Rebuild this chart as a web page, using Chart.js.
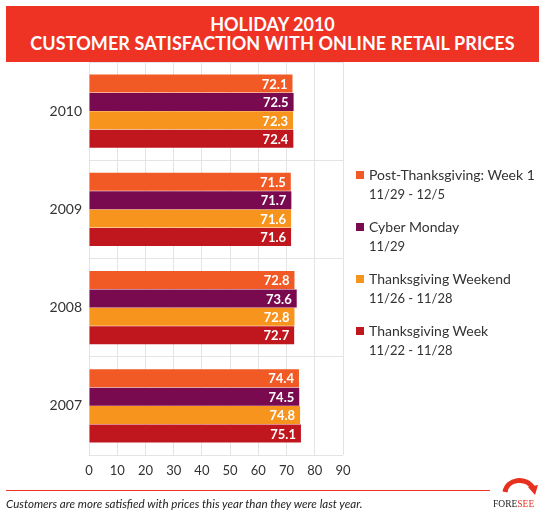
<!DOCTYPE html>
<html>
<head>
<meta charset="utf-8">
<script src="https://cdn.jsdelivr.net/npm/chart.js@4.4.0/dist/chart.umd.min.js"></script>
<style>
  html, body { margin:0; padding:0; background:#fff; }
  #wrap { position:relative; width:545px; height:513px; overflow:hidden; font-family: Lato, "Open Sans", sans-serif; }
  #chart { position:absolute; left:0; top:0; }
  #header { position:absolute; left:6px; top:6px; width:533px; height:56px; background:#ee3224; color:#fff;
            font-weight:bold; font-size:18px; line-height:18px; text-align:center; z-index:2; }
  #header .l1 { position:absolute; left:0; right:0; top:9px; }
  #header .l2 { position:absolute; left:0; right:0; top:28px; letter-spacing:0.1px; }
  #legend { position:absolute; left:356px; top:166px; z-index:2; color:#333; }
  .li { position:absolute; left:0; white-space:nowrap; }
  .sw { position:absolute; left:0; top:5px; width:8px; height:8px; }
  .t1 { position:absolute; left:13px; top:0; font-size:14px; line-height:18px; }
  .t2 { position:absolute; left:13px; top:19px; font-size:13px; line-height:18px; }
  #rule { position:absolute; left:6px; top:490px; width:484px; height:1px; background:#ee3224; }
  #foot { position:absolute; left:6px; top:497px; font-size:11.6px; font-style:italic; color:#222; white-space:nowrap; }
  #logo { position:absolute; left:490px; top:474px; width:52px; height:38px; }
</style>
</head>
<body>
<div id="wrap">
  <canvas id="chart" width="545" height="513"></canvas>
  <div id="header"><div class="l1">HOLIDAY 2010</div><div class="l2">CUSTOMER SATISFACTION WITH ONLINE RETAIL PRICES</div></div>
  <div id="legend"></div>
  <div id="rule"></div>
  <div id="foot">Customers are more satisfied with prices this year than they were last year.</div>
  <svg id="logo" viewBox="0 0 52 38">
    <path d="M15 18 C17 5, 36 2, 43 14" fill="none" stroke="#e8301f" stroke-width="5"/>
    <path d="M38 13 L48 11 L45 21 Z" fill="#e8301f"/>
    <text x="3" y="33" font-family="Liberation Serif, serif" font-size="9.5" fill="#222">FORE<tspan fill="#e8301f">SEE</tspan></text>
  </svg>
</div>
<script>
const categories = ["2010", "2009", "2008", "2007"];
const seriesNames = ["Post-Thanksgiving: Week 1", "Cyber Monday", "Thanksgiving Weekend", "Thanksgiving Week"];
const seriesDates = ["11/29 - 12/5", "11/29", "11/26 - 11/28", "11/22 - 11/28"];
const postThanksgivingWeek1 = [72.1, 71.5, 72.8, 74.4];
const cyberMonday = [72.5, 71.7, 73.6, 74.5];
const thanksgivingWeekend = [72.3, 71.6, 72.8, 74.8];
const thanksgivingWeek = [72.4, 71.6, 72.7, 75.1];
const xTicks = [0, 10, 20, 30, 40, 50, 60, 70, 80, 90];
const colors = ["#f15a24", "#7a0a4f", "#f7941d", "#c0161e"];

const seriesValues = [postThanksgivingWeek1, cyberMonday, thanksgivingWeekend, thanksgivingWeek];

// legend
const legendEl = document.getElementById('legend');
seriesNames.forEach((n, i) => {
  const d = document.createElement('div');
  d.className = 'li';
  d.style.top = (i * 52) + 'px';
  d.innerHTML = '<div class="sw" style="background:' + colors[i] + '"></div><div class="t1"></div><div class="t2"></div>';
  d.querySelector('.t1').textContent = n;
  d.querySelector('.t2').textContent = seriesDates[i];
  legendEl.appendChild(d);
});

const valueLabels = {
  id: 'valueLabels',
  afterDatasetsDraw(chart) {
    const ctx = chart.ctx;
    ctx.save();
    ctx.font = 'bold 13px Lato, sans-serif';
    ctx.fillStyle = '#fff';
    ctx.textAlign = 'right';
    ctx.textBaseline = 'middle';
    chart.data.datasets.forEach((ds, di) => {
      chart.getDatasetMeta(di).data.forEach((bar, i) => {
        ctx.fillText(ds.data[i].toFixed(1), bar.x - 5, bar.y + 1);
      });
    });
    ctx.restore();
  }
};

new Chart(document.getElementById('chart'), {
  type: 'bar',
  data: {
    labels: categories,
    datasets: seriesNames.map((n, i) => ({
      label: n,
      data: seriesValues[i],
      backgroundColor: colors[i],
      borderWidth: 0,
      categoryPercentage: 0.75,
      barPercentage: 0.98
    }))
  },
  options: {
    indexAxis: 'y',
    responsive: false,
    animation: false,
    layout: { padding: { left: 0, top: 62, right: 202, bottom: 34 } },
    plugins: { legend: { display: false }, tooltip: { enabled: false } },
    scales: {
      x: {
        min: 0, max: 90,
        afterBuildTicks(s) { s.ticks = xTicks.map(v => ({ value: v })); },
        afterFit(s) { s.height = 24; },
        grid: { color: '#e4e4e4', drawTicks: false },
        border: { display: false },
        ticks: { color: '#333', font: { family: 'Lato', size: 13 }, padding: 8 }
      },
      y: {
        afterFit(s) { s.width = 89; },
        grid: { color: '#e4e4e4', drawTicks: false, offset: true },
        border: { display: false },
        ticks: { color: '#333', font: { family: 'Lato', size: 14 }, padding: 7 }
      }
    }
  },
  plugins: [valueLabels]
});
</script>
</body>
</html>
